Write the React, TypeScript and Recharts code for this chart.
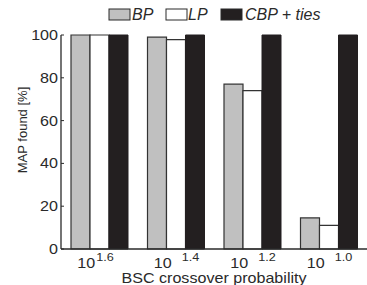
import { BarChart, Bar, XAxis, YAxis } from 'recharts';

const exponents = ['1.6', '1.4', '1.2', '1.0'];
const bpValues = [100, 99, 77, 14.5];
const lpValues = [100, 97.8, 74, 11];
const cbpValues = [100, 100, 100, 100];
const yTicks = [0, 20, 40, 60, 80, 100];

const data = exponents.map((e, i) => ({
  exp: e,
  bp: bpValues[i],
  lp: lpValues[i],
  cbp: cbpValues[i],
}));

const FONT = '"Liberation Sans", Arial, sans-serif';
const INK = '#2a2a2a';

function YTick(props: any) {
  const { x, y, payload } = props;
  return (
    <g>
      <line x1={x} x2={x + 3} y1={y} y2={y} stroke={INK} strokeWidth={1} />
      <text
        transform={`translate(${x - 3},${y + 5}) scale(1.15,1)`}
        textAnchor="end"
        fontFamily={FONT}
        fontSize={14}
        fill={INK}
      >
        {payload.value}
      </text>
    </g>
  );
}

function XTick(props: any) {
  const { x, y, payload, index } = props;
  const baseX = x - 22;
  const supX = index === 0 ? x - 3 : x + 6;
  return (
    <g fontFamily={FONT} fill={INK}>
      <text transform={`translate(${baseX},${y + 18.5}) scale(1.15,1)`} fontSize={14}>
        10
      </text>
      <text transform={`translate(${supX},${y + 12}) scale(1.15,1)`} fontSize={11}>
        {payload.value}
      </text>
    </g>
  );
}

function XLabel(props: any) {
  const { viewBox } = props;
  const cx = viewBox.x + viewBox.width / 2;
  return (
    <text
      transform={`translate(${cx},${viewBox.y + 34}) scale(1.15,1)`}
      textAnchor="middle"
      fontFamily={FONT}
      fontSize={14}
      fill={INK}
    >
      BSC crossover probability
    </text>
  );
}

function YLabel() {
  return (
    <text
      transform="translate(27,130) rotate(-90)"
      textAnchor="middle"
      fontFamily={FONT}
      fontSize={13}
      fill={INK}
    >
      MAP found [%]
    </text>
  );
}

const legendItems = [
  { name: 'BP', fill: '#c0c0c0', x: 109, tx: 132 },
  { name: 'LP', fill: '#ffffff', x: 166, tx: 188 },
  { name: 'CBP + ties', fill: '#231f20', x: 221, tx: 245 },
];

export default function App() {
  return (
    <div style={{ position: 'absolute', left: 0, top: 0, width: 367, height: 285, overflow: 'hidden', background: '#fff' }}>
      <BarChart
        width={367}
        height={285}
        data={data}
        margin={{ top: 35, right: 0, left: 0, bottom: 0 }}
        barCategoryGap={10}
        barGap={0}
      >
        <XAxis
          dataKey="exp"
          height={36}
          tickLine={false}
          tickSize={0}
          tickMargin={0}
          axisLine={{ stroke: INK, strokeWidth: 1.3 }}
          tick={<XTick />}
          interval={0}
          label={<XLabel />}
        />
        <YAxis
          width={61}
          domain={[0, 100]}
          ticks={yTicks}
          tickLine={false}
          tickSize={0}
          tickMargin={0}
          axisLine={{ stroke: INK, strokeWidth: 1.3 }}
          tick={<YTick />}
          label={<YLabel />}
        />
        <Bar dataKey="bp" fill="#c0c0c0" stroke="#333" strokeWidth={1.2} isAnimationActive={false} />
        <Bar dataKey="lp" fill="#ffffff" stroke="#333" strokeWidth={1.2} isAnimationActive={false} />
        <Bar dataKey="cbp" fill="#231f20" stroke="#231f20" strokeWidth={1} isAnimationActive={false} />
      </BarChart>
      <svg width={367} height={30} style={{ position: 'absolute', left: 0, top: 0 }}>
        {legendItems.map((it) => (
          <g key={it.name}>
            <rect x={it.x} y={9} width={21} height={11} fill={it.fill} stroke={INK} strokeWidth={1} />
            <text x={it.tx} y={20} fontFamily={FONT} fontStyle="italic" fontSize={16} fill={INK}>
              {it.name}
            </text>
          </g>
        ))}
      </svg>
    </div>
  );
}
